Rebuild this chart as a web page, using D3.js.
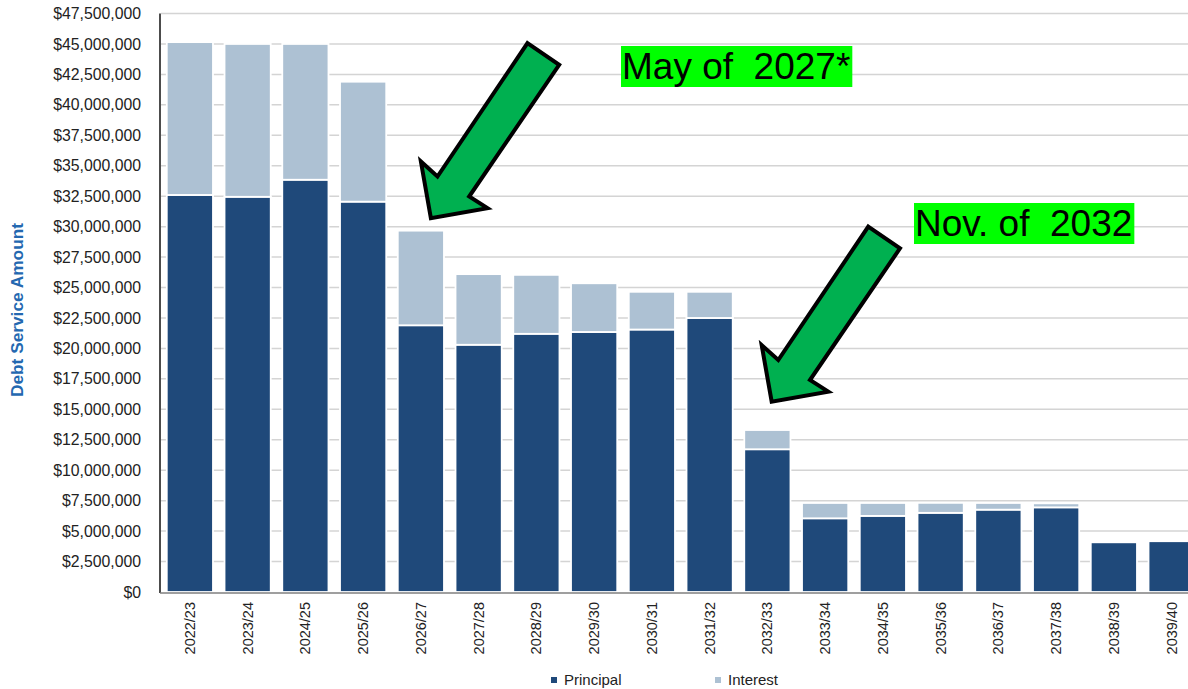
<!DOCTYPE html>
<html>
<head>
<meta charset="utf-8">
<script src="https://cdn.jsdelivr.net/npm/d3@7"></script>
<style>
	html, body { margin: 0; padding: 0; background: #fff; }
	svg { display: block; font-family: "Liberation Sans", Arial, sans-serif; }
</style>
</head>
<body>
<div id="chart-box"></div>
<script>
// DATA
const years = ["2022/23", "2023/24", "2024/25", "2025/26", "2026/27", "2027/28", "2028/29", "2029/30", "2030/31",
	"2031/32", "2032/33", "2033/34", "2034/35", "2035/36", "2036/37", "2037/38", "2038/39", "2039/40"];
const principal = [32600000, 32450000, 33850000, 32050000, 21900000, 20300000, 21200000, 21350000, 21550000,
	22500000, 11720000, 6050000, 6250000, 6500000, 6760000, 6950000, 4080000, 4170000];
const interest = [12550000, 12550000, 11150000, 9850000, 7770000, 5800000, 4840000, 4000000, 3100000,
	2150000, 1580000, 1260000, 1060000, 820000, 550000, 330000, 0, 0];
const yTicks = d3.range(0, 47500001, 2500000);
const seriesNames = ["Principal", "Interest"];
const notes = [
	{ label: "May of  2027*", year: "2026/27", value: 30700000 },
	{ label: "Nov. of  2032", year: "2032/33", value: 15630000 }
];


// SVG DIMENSIONS
const width = 1188;
const height = 689;
const margin = { top: 13.5, left: 161, bottom: 97 };
const colors = { Principal: "#1f497a", Interest: "#adc1d3" };

const svg = d3.select("#chart-box")
	.append("svg")
	.attr("width", width)
	.attr("height", height);

// SCALES
const step = 57.75;
const x = d3.scaleBand()
	.domain(years)
	.range([margin.left, margin.left + step * years.length])
	.paddingInner(0.2)
	.paddingOuter(0.1);
const y = d3.scaleLinear()
	.domain([0, 47500000])
	.range([height - margin.bottom, margin.top]);

// GRID
svg.append("g")
	.selectAll("line")
	.data(yTicks.filter(d => d > 0))
	.enter()
	.append("line")
		.attr("x1", margin.left)
		.attr("x2", width)
		.attr("y1", d => y(d))
		.attr("y2", d => y(d))
		.attr("stroke", "#d4d4d4")
		.attr("stroke-width", 1.5);

// Y AXIS labels
const yAxis = d3.axisLeft(y)
	.tickValues(yTicks)
	.tickSize(0)
	.tickPadding(20)
	.tickFormat(d => "$" + d3.format(",")(d));
svg.append("g")
	.attr("transform", `translate(${margin.left},0)`)
	.call(yAxis)
	.call(g => g.select(".domain").remove())
	.selectAll("text")
		.attr("font-size", 15.8)
		.attr("font-family", "Liberation Sans, Arial, sans-serif")
		.attr("fill", "#222");

// STACKED BARS
const rows = years.map((yr, i) => ({ year: yr, Principal: principal[i], Interest: interest[i] }));
const stacked = d3.stack().keys(seriesNames)(rows);

svg.append("g")
	.selectAll("g")
	.data(stacked)
	.enter()
	.append("g")
		.attr("fill", d => colors[d.key])
	.selectAll("rect")
	.data(d => d.filter(s => s[1] - s[0] > 0))
	.enter()
	.append("rect")
		.attr("x", d => x(d.data.year))
		.attr("width", x.bandwidth())
		.attr("y", d => y(d[1]))
		.attr("height", d => y(d[0]) - y(d[1]))
		.attr("stroke", "#fff")
		.attr("stroke-width", 1.8);

// AXIS LINES
svg.append("line")
	.attr("x1", margin.left - 1).attr("x2", margin.left - 1)
	.attr("y1", margin.top).attr("y2", y(0) + 1)
	.attr("stroke", "#111").attr("stroke-width", 1.5);
svg.append("line")
	.attr("x1", margin.left - 1).attr("x2", width)
	.attr("y1", y(0) + 1).attr("y2", y(0) + 1)
	.attr("stroke", "#7f7f7f").attr("stroke-width", 1.5);

// X AXIS labels
const xAxis = d3.axisBottom(x).tickSize(0).tickPadding(0);
svg.append("g")
	.attr("transform", `translate(0,${y(0) + 10})`)
	.call(xAxis)
	.call(g => g.select(".domain").remove())
	.selectAll("text")
		.attr("font-size", 14.5)
		.attr("font-family", "Liberation Sans, Arial, sans-serif")
		.attr("fill", "#222")
		.attr("text-anchor", "end")
		.attr("dy", null)
		.attr("dominant-baseline", "central")
		.attr("transform", "rotate(-90)")
		.attr("x", 0)
		.attr("y", 0);

// Y TITLE
svg.append("text")
	.attr("transform", "translate(23,310) rotate(-90)")
	.attr("text-anchor", "middle")
	.attr("font-size", 17)
	.attr("font-weight", "bold")
	.attr("fill", "#2468b0")
	.attr("textLength", 174)
	.attr("lengthAdjust", "spacingAndGlyphs")
	.text("Debt Service Amount");

// LEGEND
const legend = svg.append("g")
	.selectAll("g")
	.data(seriesNames)
	.enter()
	.append("g")
		.attr("transform", (d, i) => `translate(${551 + i * 164},681)`);
legend.append("rect")
	.attr("x", 0).attr("y", -4)
	.attr("width", 6).attr("height", 6)
	.attr("fill", d => colors[d]);
legend.append("text")
	.attr("x", 13).attr("y", 0)
	.attr("dominant-baseline", "middle")
	.attr("font-size", 15)
	.attr("fill", "#222")
	.text(d => d);

// ANNOTATIONS: arrow outline relative to its tip
const arrowShape = [[96.6, -175], [128.3, -153.3], [38.3, -21.6], [56.6, -10], [0, 0], [-10, -56.6], [6.6, -41.6]];
const noteLayout = [
	{ dx: 10, textX: 622, textY: 79 },
	{ dx: 4.3, textX: 915, textY: 236 }
];

notes.forEach((n, i) => {
	const tipX = x(n.year) + x.bandwidth() / 2 + noteLayout[i].dx;
	const tipY = y(n.value);
	svg.append("path")
		.attr("d", d3.line()(arrowShape.map(p => [tipX + p[0], tipY + p[1]])) + "Z")
		.attr("fill", "#00b050")
		.attr("stroke", "#000")
		.attr("stroke-width", 4)
		.attr("stroke-linejoin", "miter");

	const g = svg.append("g");
	const box = g.append("rect").attr("fill", "#00ff00");
	const t = g.append("text")
		.attr("x", noteLayout[i].textX)
		.attr("y", noteLayout[i].textY)
		.attr("font-size", 37)
		.attr("fill", "#000")
		.style("white-space", "pre")
		.text(n.label);
	const bb = t.node().getBBox();
	box.attr("x", bb.x - 1).attr("y", bb.y)
		.attr("width", bb.width + 3).attr("height", bb.height);
});
</script>
</body>
</html>
